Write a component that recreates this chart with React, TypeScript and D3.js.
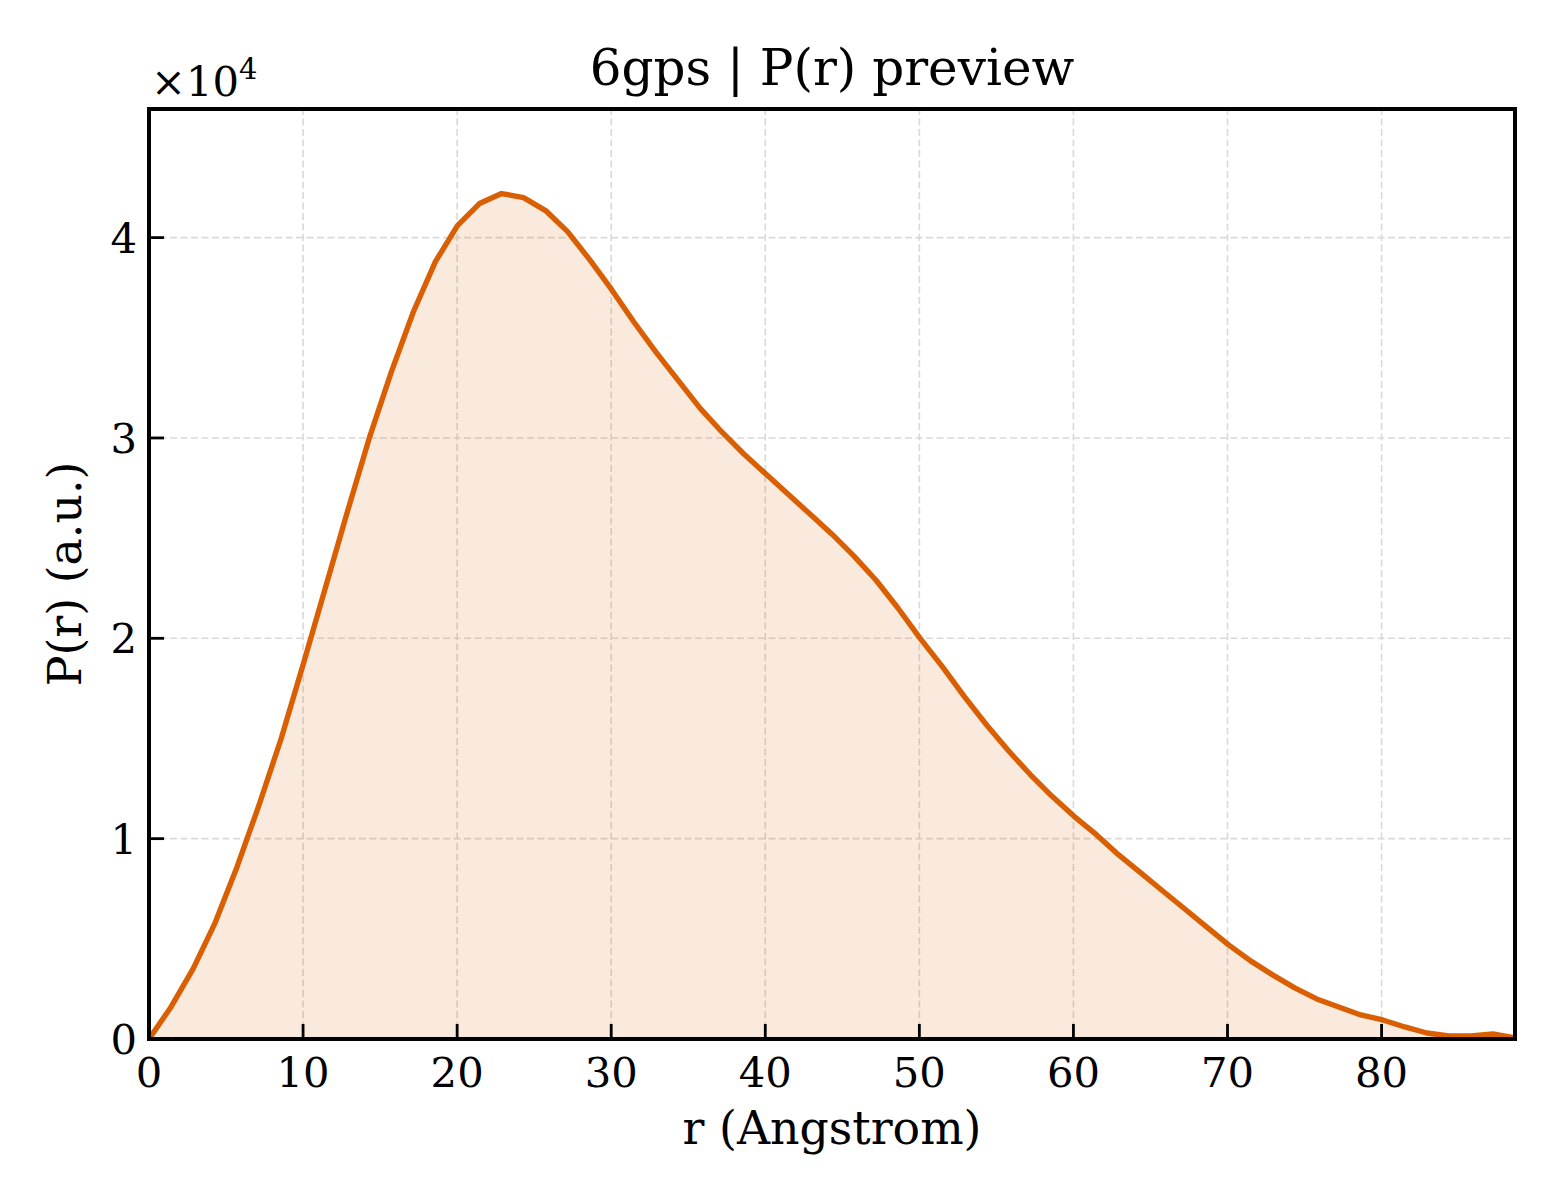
import * as d3 from "d3";
import { useEffect } from "react";

/* ------------------------------------------------------------------ */
/*  Data                                                               */
/* ------------------------------------------------------------------ */

const R_VALUES = [
  0, 1.43, 2.86, 4.29, 5.72, 7.15, 8.58, 10.01, 11.44, 12.87, 14.3, 15.73,
  17.16, 18.59, 20.02, 21.45, 22.88, 24.31, 25.74, 27.17, 28.6, 30.03, 31.46,
  32.89, 34.32, 35.75, 37.18, 38.61, 40.04, 41.47, 42.9, 44.33, 45.76, 47.19,
  48.62, 50.05, 51.48, 52.91, 54.34, 55.77, 57.2, 58.63, 60.06, 61.49, 62.92,
  64.35, 65.78, 67.21, 68.64, 70.07, 71.5, 72.93, 74.36, 75.79, 77.22, 78.65,
  80.08, 81.51, 82.94, 84.37, 85.8, 87.23, 88.66,
];

const PR_VALUES = [
  0, 1600, 3500, 5800, 8600, 11700, 15000, 18700, 22500, 26300, 30000, 33300,
  36300, 38800, 40600, 41700, 42200, 42000, 41350, 40300, 38900, 37400, 35800,
  34300, 32900, 31500, 30300, 29200, 28200, 27200, 26200, 25200, 24100, 22900,
  21500, 20000, 18600, 17100, 15700, 14400, 13200, 12100, 11100, 10200, 9200,
  8300, 7400, 6500, 5600, 4700, 3900, 3200, 2550, 2000, 1600, 1200, 950, 600,
  300, 150, 150, 250, 50,
];

const X_TICKS = [0, 10, 20, 30, 40, 50, 60, 70, 80];
const Y_TICKS = [0, 10000, 20000, 30000, 40000];

const TITLE = "6gps | P(r) preview";
const X_LABEL = "r (Angstrom)";
const Y_LABEL = "P(r) (a.u.)";

/* ------------------------------------------------------------------ */
/*  Theme                                                              */
/* ------------------------------------------------------------------ */

const W = 1560;
const H = 1200;
const LINE = "#d95f02";
const GRID = "#d9d9d9";
const FONT = "'DejaVu Serif', serif";

const margin = { top: 109, right: 45, bottom: 161, left: 149 };

export default function App() {
  useEffect(() => {
    document.body.style.margin = "0";
  }, []);

  const points = R_VALUES.map((r, i) => ({ r, p: PR_VALUES[i] }));

  const x = d3
    .scaleLinear()
    .domain(d3.extent(R_VALUES) as [number, number])
    .range([margin.left, W - margin.right]);

  const y = d3
    .scaleLinear()
    .domain([0, (d3.max(PR_VALUES) as number) * 1.1])
    .range([H - margin.bottom, margin.top]);

  const line = d3
    .line<{ r: number; p: number }>()
    .x((d) => x(d.r))
    .y((d) => y(d.p));

  const area = d3
    .area<{ r: number; p: number }>()
    .x((d) => x(d.r))
    .y0(y(0))
    .y1((d) => y(d.p));

  const [x0, x1] = x.range();
  const [y0, y1] = y.range();

  return (
    <svg width={W} height={H} style={{ display: "block", background: "#fff" }}>
      {/* grid */}
      <g stroke={GRID} strokeWidth={1.6} strokeDasharray="7 3.5">
        {X_TICKS.map((t) => (
          <line key={`gx${t}`} x1={x(t)} x2={x(t)} y1={y0} y2={y1} />
        ))}
        {Y_TICKS.map((t) => (
          <line key={`gy${t}`} x1={x0} x2={x1} y1={y(t)} y2={y(t)} />
        ))}
      </g>

      {/* fill + line */}
      <path d={area(points) ?? ""} fill={LINE} fillOpacity={0.13} />
      <path
        d={line(points) ?? ""}
        fill="none"
        stroke={LINE}
        strokeWidth={5.4}
        strokeLinejoin="round"
      />

      {/* ticks (inward) */}
      <g stroke="#000" strokeWidth={2.8}>
        {X_TICKS.map((t) => (
          <line key={`tx${t}`} x1={x(t)} x2={x(t)} y1={y0} y2={y0 - 15} />
        ))}
        {Y_TICKS.map((t) => (
          <line key={`ty${t}`} x1={x0} x2={x0 + 15} y1={y(t)} y2={y(t)} />
        ))}
      </g>

      {/* frame */}
      <rect
        x={x0}
        y={y1}
        width={x1 - x0}
        height={y0 - y1}
        fill="none"
        stroke="#000"
        strokeWidth={4}
      />

      {/* tick labels */}
      <g fontFamily={FONT} fontSize={41.7} fill="#000">
        {X_TICKS.map((t) => (
          <text key={`lx${t}`} x={x(t)} y={y0 + 48} textAnchor="middle">
            {t}
          </text>
        ))}
        {Y_TICKS.map((t) => (
          <text
            key={`ly${t}`}
            x={x0 - 12}
            y={y(t) + 15}
            textAnchor="end"
          >
            {t / 10000}
          </text>
        ))}
      </g>

      {/* offset text */}
      <text x={x0 + 2} y={96} fontFamily={FONT} fontSize={41.7}>
        ×10
        <tspan fontSize={29} dy={-17}>
          4
        </tspan>
      </text>

      {/* title & labels */}
      <text
        x={(x0 + x1) / 2}
        y={85}
        textAnchor="middle"
        fontFamily={FONT}
        fontSize={50}
      >
        {TITLE}
      </text>
      <text
        x={(x0 + x1) / 2}
        y={1144}
        textAnchor="middle"
        fontFamily={FONT}
        fontSize={45.8}
      >
        {X_LABEL}
      </text>
      <text
        transform={`translate(81,${(y0 + y1) / 2}) rotate(-90)`}
        textAnchor="middle"
        fontFamily={FONT}
        fontSize={45.8}
      >
        {Y_LABEL}
      </text>
    </svg>
  );
}
